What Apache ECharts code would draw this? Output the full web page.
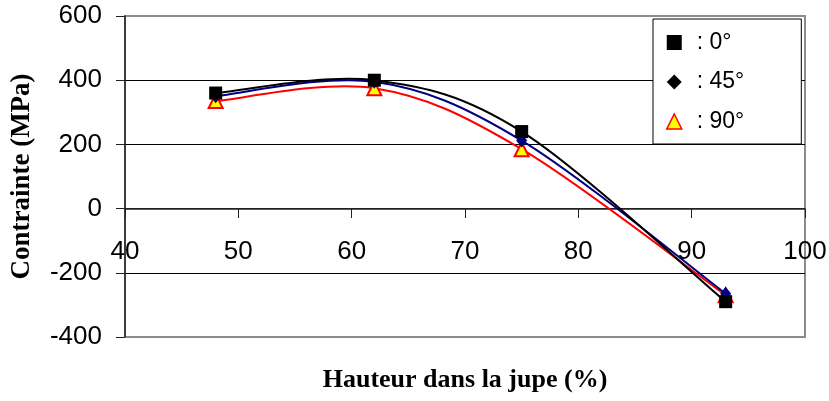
<!DOCTYPE html>
<html>
<head>
<meta charset="utf-8">
<script src="https://cdn.jsdelivr.net/npm/echarts@6/dist/echarts.min.js"></script>
<style>
html,body{margin:0;padding:0;background:#fff;}
#chart{width:829px;height:401px;}
</style>
</head>
<body>
<div id="chart"></div>
<script>
// Data
var heights = [48, 62, 75, 93];               // Hauteur dans la jupe (%)
var stress0 = [360, 400, 240, -290];          // 0°
var stress45 = [350, 395, 212, -265];         // 45°
var stress90 = [335, 375, 185, -270];         // 90°
var seriesNames = [': 0°', ': 45°', ': 90°'];
var xTicks = [40, 50, 60, 70, 80, 90, 100];
var yTicks = [-400, -200, 0, 200, 400, 600];

function pairs(xs, ys) {
  return xs.map(function (x, i) { return [x, ys[i]]; });
}

// Excel-like smoothed curve: each segment drawn as a cubic Bezier between
// consecutive data points, with control points derived from neighbours,
// all positions obtained through the chart's own coordinate system.
function smoothRenderer(xs, ys, color) {
  return function (params, api) {
    var i = params.dataIndex;
    if (i >= xs.length - 1) return null;
    var P = function (k) {
      k = Math.max(0, Math.min(xs.length - 1, k));
      return api.coord([xs[k], ys[k]]);
    };
    var p0 = P(i - 1), p1 = P(i), p2 = P(i + 1), p3 = P(i + 2);
    var t = 1 / 6;
    return {
      type: 'bezierCurve',
      shape: {
        x1: p1[0], y1: p1[1], x2: p2[0], y2: p2[1],
        cpx1: p1[0] + (p2[0] - p0[0]) * t, cpy1: p1[1] + (p2[1] - p0[1]) * t,
        cpx2: p2[0] - (p3[0] - p1[0]) * t, cpy2: p2[1] - (p3[1] - p1[1]) * t
      },
      style: {stroke: color, lineWidth: 2, fill: null}
    };
  };
}

var chart = echarts.init(document.getElementById('chart'), null, {renderer: 'canvas'});
var sans = 'Liberation Sans, Arial, sans-serif';
var serif = 'Liberation Serif, Times New Roman, serif';

var option = {
  animation: false,
  backgroundColor: '#fff',
  grid: {
    left: 125, right: 24, top: 16, bottom: 64,
    outerBoundsMode: 'none', containLabel: false,
    show: true, borderColor: '#8c8c8c', borderWidth: 2, backgroundColor: 'transparent'
  },
  legend: {
    orient: 'vertical',
    left: 653, top: 19,
    padding: [12, 57, 11, 13],
    itemGap: 16.5,
    itemWidth: 15, itemHeight: 15,
    backgroundColor: '#fff',
    borderColor: '#000', borderWidth: 1,
    textStyle: {fontFamily: sans, fontSize: 23, color: '#000', padding: [0, 0, 0, 10]},
    data: [
      {name: seriesNames[0], icon: 'rect', itemStyle: {color: '#000'}},
      {name: seriesNames[1], icon: 'diamond', itemStyle: {color: '#000'}},
      {name: seriesNames[2], icon: 'triangle', itemStyle: {color: '#ffff00', borderColor: '#ff0000', borderWidth: 1.5}}
    ]
  },
  xAxis: {
    type: 'value', min: xTicks[0], max: xTicks[xTicks.length - 1], interval: 10,
    offset: -128,
    name: 'Hauteur dans la jupe (%)', nameLocation: 'middle', nameGap: 158,
    nameTextStyle: {fontFamily: serif, fontWeight: 'bold', fontSize: 26, color: '#000'},
    axisLine: {show: true, onZero: false, lineStyle: {color: '#222', width: 1.5}},
    axisTick: {show: true, inside: false, length: 9, lineStyle: {color: '#222', width: 1}},
    axisLabel: {fontFamily: sans, fontSize: 26, color: '#000', margin: 30},
    splitLine: {show: false}
  },
  yAxis: {
    type: 'value', min: yTicks[0], max: yTicks[yTicks.length - 1], interval: 200,
    name: 'Contrainte (MPa)', nameLocation: 'middle', nameGap: 89,
    nameTextStyle: {fontFamily: serif, fontWeight: 'bold', fontSize: 27, color: '#000'},
    axisLine: {show: true, lineStyle: {color: '#222', width: 1.5}},
    axisTick: {show: true, inside: false, length: 9, lineStyle: {color: '#222', width: 1}},
    axisLabel: {fontFamily: sans, fontSize: 26, color: '#000', margin: 23},
    splitLine: {show: true, lineStyle: {color: ['#8c8c8c', '#000', '#222', '#000', '#000', '#8c8c8c'], width: 1}}
  },
  series: [
    {name: seriesNames[2], type: 'custom', z: 3, renderItem: smoothRenderer(heights, stress90, '#ff0000'), data: pairs(heights, stress90), encode: {x: 0, y: 1}},
    {name: seriesNames[1], type: 'custom', z: 4, renderItem: smoothRenderer(heights, stress45, '#000080'), data: pairs(heights, stress45), encode: {x: 0, y: 1}},
    {name: seriesNames[0], type: 'custom', z: 5, renderItem: smoothRenderer(heights, stress0, '#000000'), data: pairs(heights, stress0), encode: {x: 0, y: 1}},
    {
      name: seriesNames[2], type: 'line', z: 6,
      data: pairs(heights, stress90),
      symbol: 'triangle', symbolSize: 14,
      lineStyle: {width: 0, opacity: 0},
      itemStyle: {color: '#ffff00', borderColor: '#ff0000', borderWidth: 2}
    },
    {
      name: seriesNames[1], type: 'line', z: 7,
      data: pairs(heights, stress45),
      symbol: 'diamond', symbolSize: [11, 14],
      lineStyle: {width: 0, opacity: 0},
      itemStyle: {color: '#000080', borderColor: '#000080', borderWidth: 0}
    },
    {
      name: seriesNames[0], type: 'line', z: 8,
      data: pairs(heights, stress0),
      symbol: 'rect', symbolSize: 13,
      lineStyle: {width: 0, opacity: 0},
      itemStyle: {color: '#000', borderColor: '#000', borderWidth: 0}
    }
  ]
};
chart.setOption(option);
</script>
</body>
</html>
